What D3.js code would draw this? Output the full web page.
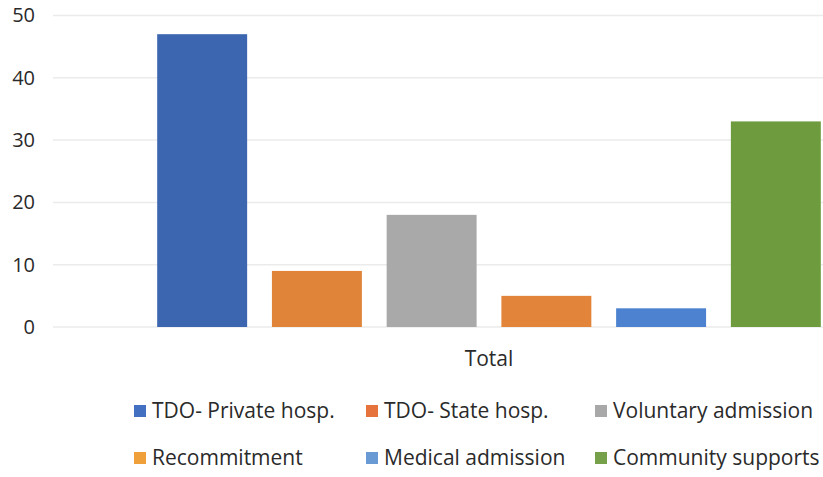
<!DOCTYPE html>
<html>
<head>
<meta charset="utf-8">
<script src="https://cdn.jsdelivr.net/npm/d3@7"></script>
<style>
  html, body { margin: 0; padding: 0; background: #fff; }
  svg { display: block; font-family: "Open Sans", "DejaVu Sans", sans-serif; }
</style>
</head>
<body>
<svg id="chart" width="823" height="477"></svg>
<script>
// Admissions by disposition type, single "Total" category
const categories = ["Total"];
const seriesNames = [
  "TDO- Private hosp.",
  "TDO- State hosp.",
  "Voluntary admission",
  "Recommitment",
  "Medical admission",
  "Community supports"
];
const seriesValues = [47, 9, 18, 5, 3, 33];
const yTicks = [0, 10, 20, 30, 40, 50];

const barColors = ["#3c66b0", "#e0843a", "#a9a9a9", "#e2853a", "#4c82d0", "#6f9b3f"];
const legendColors = ["#4470c2", "#e6733c", "#a8a8a8", "#f0a03a", "#6a9ad4", "#76a04a"];

const svg = d3.select("#chart");
const W = 823, H = 477;

// plot area continues past the right edge of the canvas
const plot = { left: 53, right: 925, top: 15.5, bottom: 327 };

const y = d3.scaleLinear().domain([0, 50]).range([plot.bottom, plot.top]);

const x0 = d3.scaleBand().domain(categories).range([plot.left, plot.right]).paddingInner(0).paddingOuter(0.157);
const x1 = d3.scaleBand().domain(seriesNames).range([0, x0.bandwidth()]).paddingInner(0.216);

// gridlines
svg.append("g")
  .selectAll("line")
  .data(yTicks)
  .join("line")
  .attr("x1", plot.left)
  .attr("x2", W)
  .attr("y1", d => y(d))
  .attr("y2", d => y(d))
  .attr("stroke", "#ebebeb")
  .attr("stroke-width", 1.5);

// y-axis labels
const yAxis = d3.axisLeft(y).tickValues(yTicks).tickSize(0).tickPadding(0);
const gy = svg.append("g").attr("transform", "translate(35,0)").call(yAxis);
gy.select(".domain").remove();
gy.selectAll("text")
  .attr("font-size", 20)
  .attr("fill", "#2a2a2a")
  .attr("font-family", "'Open Sans', sans-serif");

// bars
const group = svg.append("g")
  .selectAll("g")
  .data(categories)
  .join("g")
  .attr("transform", d => `translate(${x0(d)},0)`);

group.selectAll("rect")
  .data(seriesNames.map((name, i) => ({ name, value: seriesValues[i], color: barColors[i] })))
  .join("rect")
  .attr("x", d => x1(d.name))
  .attr("width", x1.bandwidth())
  .attr("y", d => y(d.value))
  .attr("height", d => y(0) - y(d.value))
  .attr("fill", d => d.color);

// category label
const xAxis = d3.axisBottom(x0).tickSize(0).tickPadding(0);
const gx = svg.append("g").attr("transform", `translate(0,${plot.bottom + 24})`).call(xAxis);
gx.select(".domain").remove();
gx.selectAll("text")
  .attr("font-size", 21)
  .attr("fill", "#2a2a2a")
  .attr("font-family", "'Open Sans', sans-serif");

// legend
const legendPos = [
  [134, 411], [366, 411], [595, 411],
  [134, 458], [366, 458], [595, 458]
];
const legend = svg.append("g")
  .selectAll("g")
  .data(seriesNames)
  .join("g")
  .attr("transform", (d, i) => `translate(${legendPos[i][0]},${legendPos[i][1]})`);

legend.append("rect")
  .attr("x", 0)
  .attr("y", -6)
  .attr("width", 12)
  .attr("height", 12)
  .attr("fill", (d, i) => legendColors[i]);

legend.append("text")
  .attr("x", 18)
  .attr("y", 0)
  .attr("dy", "0.35em")
  .attr("font-size", 21)
  .attr("fill", "#2a2a2a")
  .text(d => d);
</script>
</body>
</html>
